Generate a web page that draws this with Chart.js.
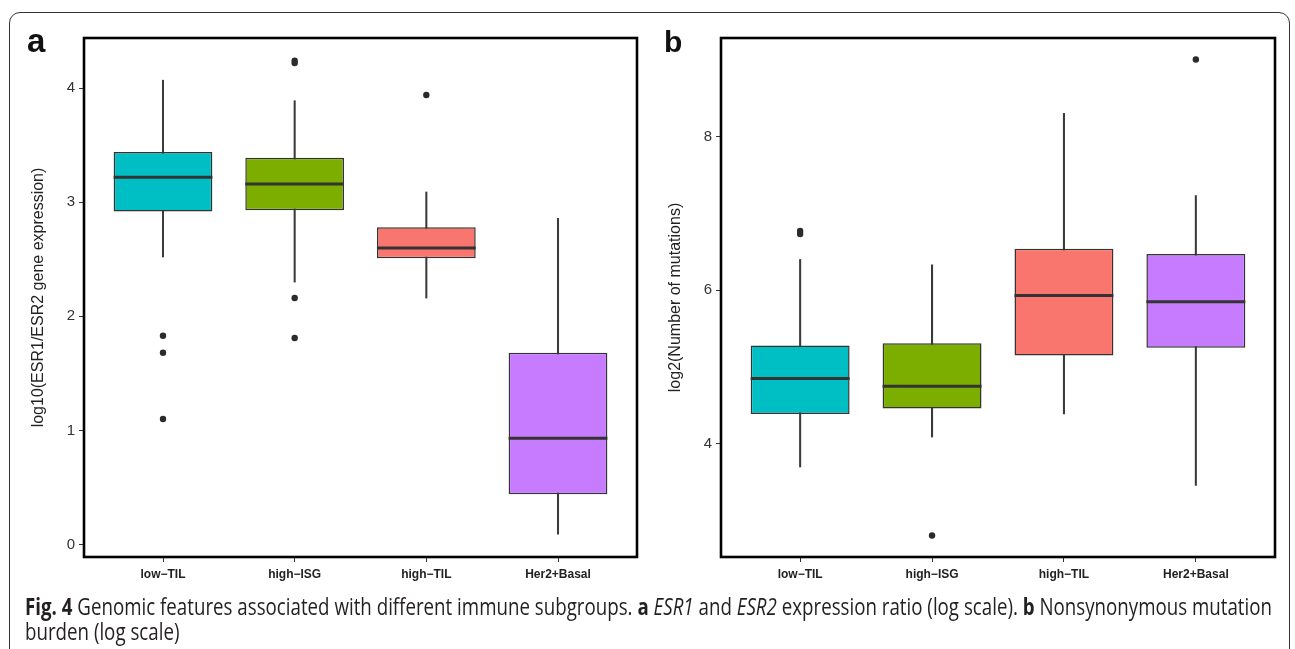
<!DOCTYPE html>
<html>
<head>
<meta charset="utf-8">
<script src="https://cdn.jsdelivr.net/npm/chart.js@4.4.1/dist/chart.umd.min.js"></script>
<style>
  html, body { margin: 0; padding: 0; background: #fff; }
  body { width: 1295px; height: 649px; position: relative; overflow: hidden; font-family: 'Liberation Sans', Arial, sans-serif; }
  .frame { position: absolute; left: 9px; top: 12px; width: 1281px; height: 700px; border: 1.5px solid #333; border-radius: 11px; box-sizing: border-box; }
  .panel { position: absolute; top: 0; }
  .letter { position: absolute; font-weight: bold; color: #111; line-height: 1; }
  .caption { position: absolute; left: 25px; top: 594px; font-family: 'Open Sans', sans-serif; font-size: 23px; line-height: 25px; color: #231f20; white-space: nowrap; transform-origin: 0 0; }
</style>
</head>
<body>
<div class="frame"></div>
<div class="panel" style="left:0;width:650px;height:600px"><canvas id="chart-a"></canvas></div>
<div class="panel" style="left:650px;width:640px;height:600px"><canvas id="chart-b"></canvas></div>
<div class="letter" style="left:27px;top:24px;font-size:33px">a</div>
<div class="letter" style="left:664px;top:27px;font-size:30px">b</div>
<div class="caption" id="caption"><span id="cap-line1"><b>Fig. 4</b> Genomic features associated with different immune subgroups. <b>a</b> <i>ESR1</i> and <i>ESR2</i> expression ratio (log scale). <b>b</b> Nonsynonymous mutation</span><br>burden (log scale)</div>
<script>
// categories + ggplot default colours
const categories = ['low−TIL', 'high−ISG', 'high−TIL', 'Her2+Basal'];
const boxColors = ['#00BFC4', '#7CAE00', '#F8766D', '#C77CFF'];

// panel a: log10(ESR1/ESR2 gene expression)
const esrWhiskerLow = [2.52, 2.30, 2.16, 0.09];
const esrQ1 = [2.92, 2.93, 2.51, 0.44];
const esrMedian = [3.22, 3.16, 2.60, 0.93];
const esrQ3 = [3.44, 3.39, 2.78, 1.68];
const esrWhiskerHigh = [4.07, 3.89, 3.09, 2.86];
const esrOutliers = [[1.83, 1.68, 1.10], [4.24, 4.22, 2.16, 1.81], [3.94], []];
const esrTicks = [0, 1, 2, 3, 4];

// panel b: log2(Number of mutations)
const mutWhiskerLow = [3.70, 4.09, 4.39, 3.46];
const mutQ1 = [4.39, 4.46, 5.15, 5.25];
const mutMedian = [4.85, 4.75, 5.93, 5.85];
const mutQ3 = [5.28, 5.31, 6.54, 6.47];
const mutWhiskerHigh = [6.40, 6.33, 8.30, 7.23];
const mutOutliers = [[6.77, 6.73], [2.81], [], [9.00]];
const mutTicks = [4, 6, 8];

Chart.defaults.font.family = "'Liberation Sans', Arial, sans-serif";
Chart.defaults.animation = false;

// median lines + panel border
const boxExtras = {
    id: 'boxExtras',
    afterDatasetsDraw(chart, args, opts) {
        const { ctx } = chart;
        const meta = chart.getDatasetMeta(1);
        const yScale = chart.scales.y;
        ctx.save();
        ctx.strokeStyle = '#333';
        ctx.lineWidth = 3;
        meta.data.forEach((bar, i) => {
            const y = yScale.getPixelForValue(opts.medians[i]);
            ctx.beginPath();
            ctx.moveTo(bar.x - bar.width / 2, y);
            ctx.lineTo(bar.x + bar.width / 2, y);
            ctx.stroke();
        });
        ctx.restore();
    },
    afterDraw(chart) {
        const { ctx, chartArea: a } = chart;
        ctx.save();
        ctx.strokeStyle = '#000';
        ctx.lineWidth = 2.6;
        ctx.strokeRect(a.left, a.top, a.right - a.left, a.bottom - a.top);
        ctx.restore();
    }
};

const makeBoxChart = (canvasId, cfg) => {
    const positions = categories.map((c, i) => i + 1);
    const outlierPoints = [];
    cfg.outliers.forEach((list, i) => list.forEach(v => outlierPoints.push({ x: i + 1, y: v })));

    return new Chart(document.getElementById(canvasId), {
        type: 'bar',
        data: {
            datasets: [{
                label: 'whisker',
                data: positions.map((x, i) => ({ x: x, y: [cfg.whiskerLow[i], cfg.whiskerHigh[i]] })),
                backgroundColor: '#3a3a3a',
                barThickness: 1.4,
                grouped: false,
                order: 3
            }, {
                label: 'box',
                data: positions.map((x, i) => ({ x: x, y: [cfg.q1[i], cfg.q3[i]] })),
                backgroundColor: boxColors,
                borderColor: '#333',
                borderWidth: 1.5,
                borderSkipped: false,
                barPercentage: 0.75,
                categoryPercentage: 1,
                grouped: false,
                order: 2
            }, {
                type: 'scatter',
                label: 'outliers',
                data: outlierPoints,
                pointRadius: 3.2,
                backgroundColor: '#2b2b2b',
                borderWidth: 0,
                order: 1
            }]
        },
        options: {
            responsive: true,
            maintainAspectRatio: false,
            layout: { padding: { top: 38, right: cfg.rightPad, left: 0, bottom: 0 } },
            plugins: {
                legend: { display: false },
                tooltip: { enabled: false },
                boxExtras: { medians: cfg.median }
            },
            scales: {
                x: {
                    type: 'linear',
                    offset: false,
                    min: 0.4,
                    max: 4.6,
                    afterBuildTicks: s => { s.ticks = positions.map(v => ({ value: v })); },
                    afterFit: s => { s.height = 43; },
                    ticks: {
                        callback: v => categories[v - 1],
                        font: { size: 12, weight: 'bold' },
                        color: '#222',
                        padding: 5,
                        maxRotation: 0
                    },
                    grid: { offset: false, drawOnChartArea: false, drawTicks: true, tickLength: 5, tickColor: '#333', tickWidth: 1 },
                    border: { display: false }
                },
                y: {
                    min: cfg.yMin,
                    max: cfg.yMax,
                    afterBuildTicks: s => { s.ticks = cfg.ticks.map(v => ({ value: v })); },
                    afterFit: s => { s.width = cfg.yWidth; },
                    ticks: { font: { size: 15 }, color: '#333', padding: 4 },
                    grid: { drawOnChartArea: false, drawTicks: true, tickLength: 5, tickColor: '#333', tickWidth: 1 },
                    border: { display: false },
                    title: {
                        display: true,
                        text: cfg.title,
                        font: { size: 16 },
                        color: '#222',
                        padding: { top: cfg.titlePad, bottom: 0 }
                    }
                }
            }
        },
        plugins: [boxExtras]
    });
};

makeBoxChart('chart-a', {
    whiskerLow: esrWhiskerLow, q1: esrQ1, median: esrMedian, q3: esrQ3, whiskerHigh: esrWhiskerHigh,
    outliers: esrOutliers, ticks: esrTicks, yMin: -0.11, yMax: 4.44,
    title: 'log10(ESR1/ESR2 gene expression)', yWidth: 84, rightPad: 13, titlePad: 29
});

makeBoxChart('chart-b', {
    whiskerLow: mutWhiskerLow, q1: mutQ1, median: mutMedian, q3: mutQ3, whiskerHigh: mutWhiskerHigh,
    outliers: mutOutliers, ticks: mutTicks, yMin: 2.53, yMax: 9.28,
    title: 'log2(Number of mutations)', yWidth: 71, rightPad: 15, titlePad: 16
});

// squeeze the caption horizontally so line 1 spans the same width as in the figure
const cap = document.getElementById('caption');
const line1 = document.getElementById('cap-line1').getBoundingClientRect().width;
cap.style.transform = `scaleX(${1247 / line1})`;
</script>
</body>
</html>
